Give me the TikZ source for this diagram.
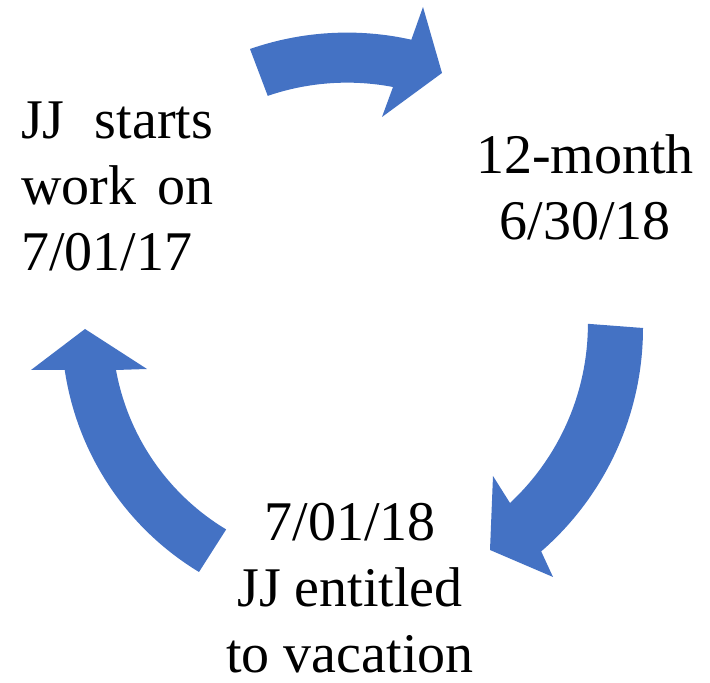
\documentclass[tikz,border=0pt]{standalone}
\usepackage{fontspec}
\newfontfamily\stagefont{Liberation Serif}
\newfontfamily\othersans{Liberation Sans}

\definecolor{cycleblue}{HTML}{4472C4}

\begin{document}
\begin{tikzpicture}[
    x=1pt, y=1pt,
    stage/.style={inner sep=0pt,font=\stagefont\fontsize{56}{66}\selectfont},
    cyclearrow/.style={fill=cycleblue,draw=none}
]
\useasboundingbox (0,0) rectangle (710,683);

\node[stage,anchor=north west,text width=192pt,align=justify] (start) at (21,581)
    {JJ starts\linebreak work on\linebreak 7/01/17};
\node[stage,anchor=north,align=center] (year) at (585,549) {12-month\\6/30/18};
\node[stage,anchor=north,align=center] (entitled) at (350,180)
    {7/01/18\\JJ entitled\\to vacation};

\fill[cyclearrow] (250,634) arc[start angle=109.2,end angle=77.4,radius=295]
    -- (423,676) -- (442,610) -- (382,566) -- (393,596)
    arc[start angle=79.2,end angle=108.9,radius=245] -- cycle;
\fill[cyclearrow] (643,355) arc[start angle=0,end angle=-49,radius=296]
    -- (553,106) -- (490,133) -- (493,207) -- (510,180)
    arc[start angle=-47,end angle=0,radius=245] -- cycle;
\fill[cyclearrow] (199,111) arc[start angle=238.8,end angle=188.4,radius=285]
    -- (31,313) -- (85,354) -- (147,314) -- (116,313)
    arc[start angle=190.3,end angle=239,radius=235] -- cycle;

\end{tikzpicture}
\end{document}
